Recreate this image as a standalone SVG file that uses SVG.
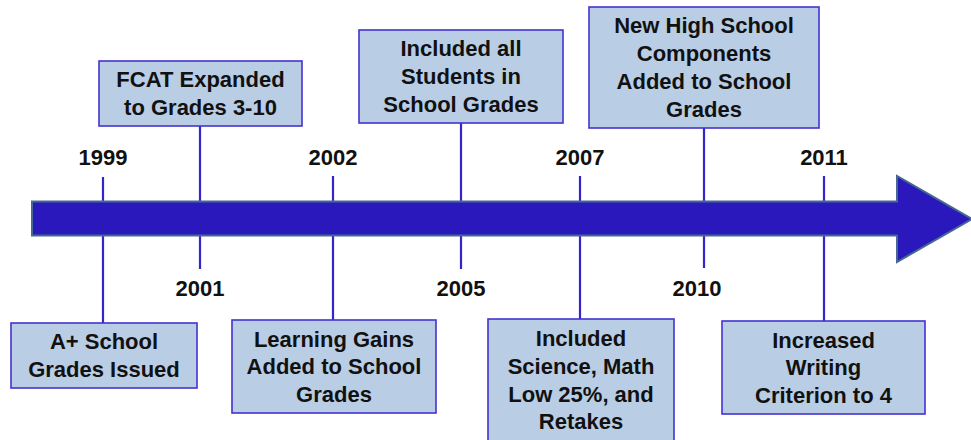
<svg xmlns="http://www.w3.org/2000/svg" width="971" height="440" viewBox="0 0 971 440">
<style>
.box{fill:#B9CDE5;stroke:#4433CF;stroke-width:1.6}
.t{font-family:"Liberation Sans",Arial,sans-serif;font-weight:bold;font-size:22px;fill:#111;text-anchor:middle}
.c{stroke:#3524CC;stroke-width:2.2;fill:none}
</style>
<rect width="971" height="440" fill="#fff"/>
<g id="connectors">
<line class="c" x1="103" y1="177" x2="103" y2="323"/>
<line class="c" x1="200" y1="126" x2="200" y2="269"/>
<line class="c" x1="333" y1="176" x2="333" y2="320"/>
<line class="c" x1="461" y1="123" x2="461" y2="269"/>
<line class="c" x1="580" y1="176" x2="580" y2="319"/>
<line class="c" x1="704" y1="128" x2="704" y2="268"/>
<line class="c" x1="824" y1="176" x2="824" y2="321"/>
</g>
<g id="arrow">
<polygon points="32,201.5 897,201.5 897,176 972,219 897,262 897,235.5 32,235.5" fill="#2B18BD" stroke="#46698F" stroke-width="2"/>
</g>
<g id="years">
<text class="t" x="103" y="165">1999</text>
<text class="t" x="333" y="165">2002</text>
<text class="t" x="580" y="165">2007</text>
<text class="t" x="824" y="165">2011</text>
<text class="t" x="200" y="296">2001</text>
<text class="t" x="461" y="296">2005</text>
<text class="t" x="697" y="296">2010</text>
</g>
<g id="n1999">
<rect class="box" x="11" y="323" width="186" height="65"/>
<text class="t" x="104" y="349">A+ School</text>
<text class="t" x="104" y="377">Grades Issued</text>
</g>
<g id="n2001">
<rect class="box" x="99" y="61" width="203" height="65"/>
<text class="t" x="200.5" y="87">FCAT Expanded</text>
<text class="t" x="200.5" y="115">to Grades 3-10</text>
</g>
<g id="n2002">
<rect class="box" x="232" y="320" width="204" height="93"/>
<text class="t" x="334" y="347">Learning Gains</text>
<text class="t" x="334" y="374">Added to School</text>
<text class="t" x="334" y="402">Grades</text>
</g>
<g id="n2005">
<rect class="box" x="359" y="30" width="204" height="93"/>
<text class="t" x="461" y="56">Included all</text>
<text class="t" x="461" y="84">Students in</text>
<text class="t" x="461" y="112">School Grades</text>
</g>
<g id="n2007">
<rect class="box" x="488" y="319" width="186" height="130"/>
<text class="t" x="581" y="346">Included</text>
<text class="t" x="581" y="374">Science, Math</text>
<text class="t" x="581" y="402">Low 25%, and</text>
<text class="t" x="581" y="429">Retakes</text>
</g>
<g id="n2010">
<rect class="box" x="589" y="7" width="230" height="121"/>
<text class="t" x="704" y="33">New High School</text>
<text class="t" x="704" y="61">Components</text>
<text class="t" x="704" y="89">Added to School</text>
<text class="t" x="704" y="117">Grades</text>
</g>
<g id="n2011">
<rect class="box" x="722" y="321" width="203" height="93"/>
<text class="t" x="823.5" y="348">Increased</text>
<text class="t" x="823.5" y="375">Writing</text>
<text class="t" x="823.5" y="403">Criterion to 4</text>
</g>
</svg>
